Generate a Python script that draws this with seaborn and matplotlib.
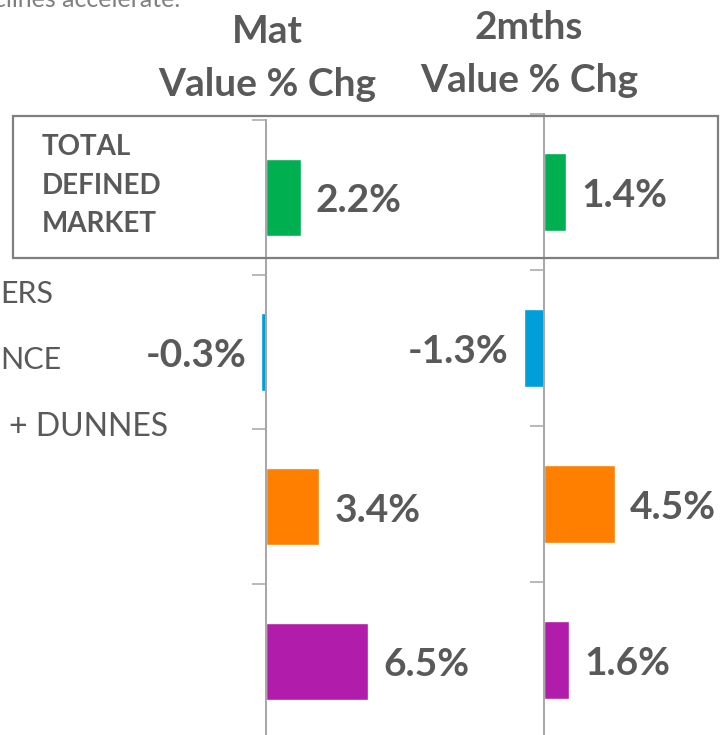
import matplotlib
matplotlib.use("Agg")
import matplotlib.pyplot as plt
from matplotlib.patches import Rectangle
import seaborn as sns

sns.set_style("white")
plt.rcParams['font.family'] = ['Lato', 'DejaVu Sans']

# data
categories = ["TOTAL DEFINED MARKET", "SEGMENT 2", "SEGMENT 3", "SEGMENT 4"]
mat_values = [2.2, -0.3, 3.4, 6.5]
mths2_values = [1.4, -1.3, 4.5, 1.6]
bar_colors = ["#00B050", "#009FDA", "#FF8000", "#B11CAB"]

TEXT = "#595959"
AXIS = "#A6A6A6"
W, H = 720, 735
PX_PER_PCT = 15.7

fig = plt.figure(figsize=(W / 100, H / 100), dpi=100)


def add_panel(x0, x1, zero_x, top, band, values):
    # axes placed in pixel terms, zero line at zero_x
    bottom = top + band * len(values)
    ax = fig.add_axes([x0 / W, 1 - bottom / H, (x1 - x0) / W, (bottom - top) / H])
    sns.barplot(x=values, y=categories, hue=categories, palette=bar_colors,
                orient="h", width=0.5, legend=False, ax=ax, saturation=1)
    ax.set_xlim(-(zero_x - x0) / PX_PER_PCT, (x1 - zero_x) / PX_PER_PCT)
    ax.set_ylim(len(values) - 0.5, -0.5)
    for s in ["top", "right", "bottom"]:
        ax.spines[s].set_visible(False)
    ax.spines["left"].set_position(("data", 0))
    ax.spines["left"].set_color(AXIS)
    ax.spines["left"].set_linewidth(1.4)
    ax.set_xticks([])
    ax.set_yticks([i - 0.5 for i in range(len(values) + 1)])
    ax.set_yticklabels([])
    ax.tick_params(axis="y", left=True, direction="out", length=10, width=1.1, color=AXIS)
    ax.set_xlabel("")
    ax.set_ylabel("")
    ax.patch.set_alpha(0)
    for i, v in enumerate(values):
        off = 10.8 if v >= 0 else -10.8
        ax.annotate(f"{v:.1f}%", xy=(v, i), xytext=(off, -10.8),
                    textcoords="offset points", ha="left" if v >= 0 else "right",
                    va="baseline", fontsize=28, fontweight="bold", color=TEXT)
    return ax


ax1 = add_panel(150, 420, 266, 120, 154.7, mat_values)
ax2 = add_panel(420, 720, 544, 114, 156, mths2_values)


def ftext(x, y, s, **kw):
    fig.text(x / W, 1 - y / H, s, **kw)


# column headers
ftext(267, 43, "Mat", ha="center", va="baseline", fontsize=28, fontweight="bold", color=TEXT)
ftext(267, 96, "Value % Chg", ha="center", va="baseline", fontsize=28, fontweight="bold", color=TEXT)
ftext(529, 39, "2mths", ha="center", va="baseline", fontsize=28, fontweight="bold", color=TEXT)
ftext(529, 92, "Value % Chg", ha="center", va="baseline", fontsize=28, fontweight="bold", color=TEXT)

# left labels (cut off at the slide edge in the original)
ftext(180, 7, "clines accelerate.", ha="right", va="baseline", fontsize=18, color="#808080")
for y, s in zip([155, 194, 232], ["TOTAL", "DEFINED", "MARKET"]):
    ftext(42, y, s, ha="left", va="baseline", fontsize=20, fontweight="bold", color=TEXT)
ftext(0, 303, "ERS", ha="left", va="baseline", fontsize=22, color=TEXT)
ftext(0, 369, "NCE", ha="left", va="baseline", fontsize=22, color=TEXT)
ftext(9, 436, "+ DUNNES", ha="left", va="baseline", fontsize=23, color=TEXT)

# highlight box round the total row
fig.add_artist(Rectangle((13 / W, 1 - 258 / H), (718 - 13) / W, (258 - 116) / H,
                         transform=fig.transFigure, fill=False, ec="#7F7F7F", lw=1.6))

fig.savefig("out.png", dpi=100)
